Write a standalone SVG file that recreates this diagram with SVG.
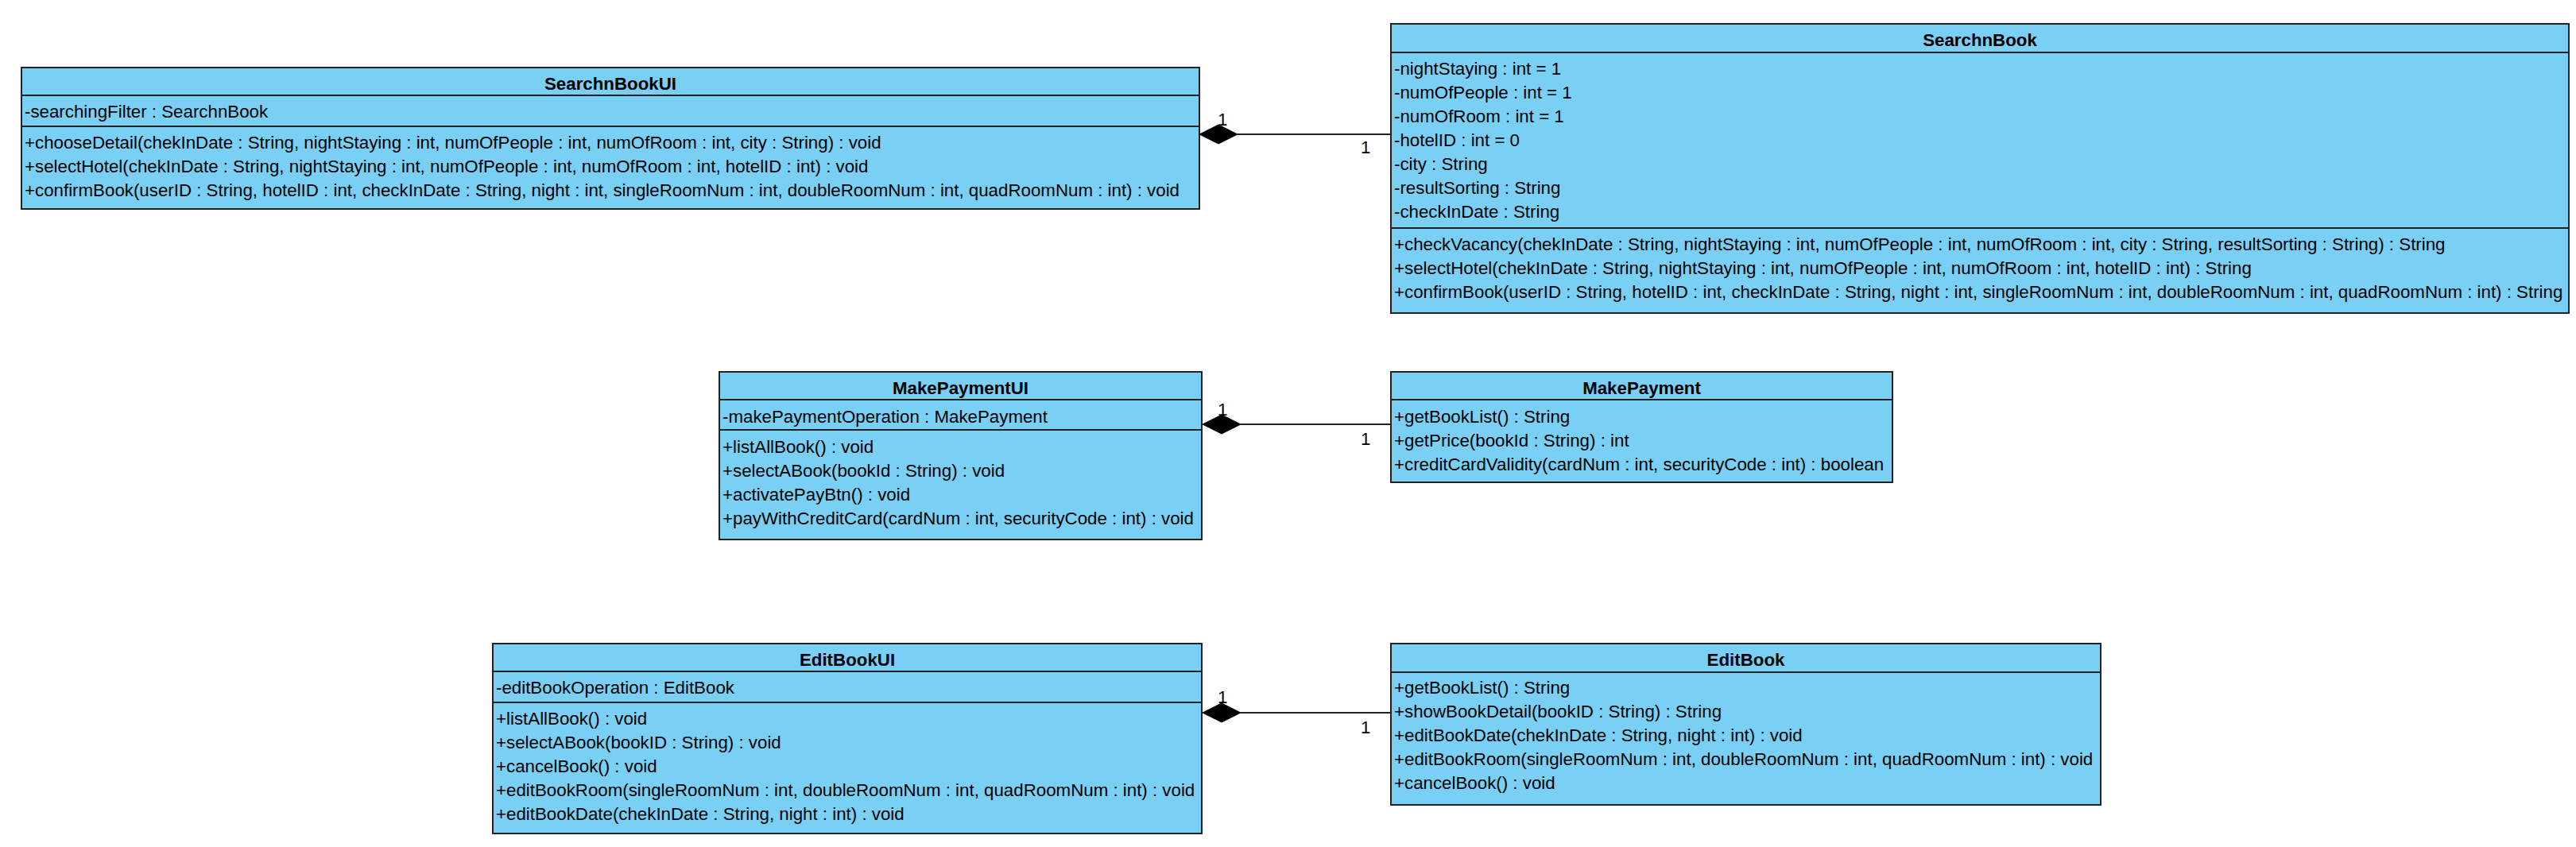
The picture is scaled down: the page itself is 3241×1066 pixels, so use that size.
<svg xmlns="http://www.w3.org/2000/svg" width="3241" height="1066" viewBox="0 0 3241 1066">
<style>
.box{fill:#7acff5;stroke:#222;stroke-width:2}
.div{stroke:#222;stroke-width:2}
.t{font-family:"Liberation Sans",Arial,sans-serif;font-size:22.3px;fill:#000}
.title{font-family:"Liberation Sans",Arial,sans-serif;font-size:22.3px;font-weight:bold;fill:#000;text-anchor:middle}
.conn{stroke:#222;stroke-width:2;fill:none}
.dia{fill:#000;stroke:#000;stroke-width:1}
</style>
<rect width="3241" height="1066" fill="#fff"/>
<g id="SearchnBookUI">
<rect class="box" x="27" y="85" width="1482" height="178"/>
<line class="div" x1="27" y1="120" x2="1509" y2="120"/>
<line class="div" x1="27" y1="159" x2="1509" y2="159"/>
<text class="title" x="768" y="113">SearchnBookUI</text>
<text class="t" x="31" y="148">-searchingFilter : SearchnBook</text>
<text class="t" x="31" y="187">+chooseDetail(chekInDate : String, nightStaying : int, numOfPeople : int, numOfRoom : int, city : String) : void</text>
<text class="t" x="31" y="217">+selectHotel(chekInDate : String, nightStaying : int, numOfPeople : int, numOfRoom : int, hotelID : int) : void</text>
<text class="t" x="31" y="247">+confirmBook(userID : String, hotelID : int, checkInDate : String, night : int, singleRoomNum : int, doubleRoomNum : int, quadRoomNum : int) : void</text>
</g>
<g id="SearchnBook">
<rect class="box" x="1750" y="30" width="1482" height="364"/>
<line class="div" x1="1750" y1="66" x2="3232" y2="66"/>
<line class="div" x1="1750" y1="287" x2="3232" y2="287"/>
<text class="title" x="2491" y="58">SearchnBook</text>
<text class="t" x="1754" y="94">-nightStaying : int = 1</text>
<text class="t" x="1754" y="124">-numOfPeople : int = 1</text>
<text class="t" x="1754" y="154">-numOfRoom : int = 1</text>
<text class="t" x="1754" y="184">-hotelID : int = 0</text>
<text class="t" x="1754" y="214">-city : String</text>
<text class="t" x="1754" y="244">-resultSorting : String</text>
<text class="t" x="1754" y="274">-checkInDate : String</text>
<text class="t" x="1754" y="315">+checkVacancy(chekInDate : String, nightStaying : int, numOfPeople : int, numOfRoom : int, city : String, resultSorting : String) : String</text>
<text class="t" x="1754" y="345">+selectHotel(chekInDate : String, nightStaying : int, numOfPeople : int, numOfRoom : int, hotelID : int) : String</text>
<text class="t" x="1754" y="375">+confirmBook(userID : String, hotelID : int, checkInDate : String, night : int, singleRoomNum : int, doubleRoomNum : int, quadRoomNum : int) : String</text>
</g>
<g id="MakePaymentUI">
<rect class="box" x="905" y="468" width="607" height="211"/>
<line class="div" x1="905" y1="503" x2="1512" y2="503"/>
<line class="div" x1="905" y1="541" x2="1512" y2="541"/>
<text class="title" x="1208.5" y="496">MakePaymentUI</text>
<text class="t" x="909" y="532">-makePaymentOperation : MakePayment</text>
<text class="t" x="909" y="570">+listAllBook() : void</text>
<text class="t" x="909" y="600">+selectABook(bookId : String) : void</text>
<text class="t" x="909" y="630">+activatePayBtn() : void</text>
<text class="t" x="909" y="660">+payWithCreditCard(cardNum : int, securityCode : int) : void</text>
</g>
<g id="MakePayment">
<rect class="box" x="1750" y="468" width="631" height="139"/>
<line class="div" x1="1750" y1="503" x2="2381" y2="503"/>
<text class="title" x="2065.5" y="496">MakePayment</text>
<text class="t" x="1754" y="532">+getBookList() : String</text>
<text class="t" x="1754" y="562">+getPrice(bookId : String) : int</text>
<text class="t" x="1754" y="592">+creditCardValidity(cardNum : int, securityCode : int) : boolean</text>
</g>
<g id="EditBookUI">
<rect class="box" x="620" y="810" width="892" height="239"/>
<line class="div" x1="620" y1="845" x2="1512" y2="845"/>
<line class="div" x1="620" y1="884" x2="1512" y2="884"/>
<text class="title" x="1066" y="838">EditBookUI</text>
<text class="t" x="624" y="873">-editBookOperation : EditBook</text>
<text class="t" x="624" y="912">+listAllBook() : void</text>
<text class="t" x="624" y="942">+selectABook(bookID : String) : void</text>
<text class="t" x="624" y="972">+cancelBook() : void</text>
<text class="t" x="624" y="1002">+editBookRoom(singleRoomNum : int, doubleRoomNum : int, quadRoomNum : int) : void</text>
<text class="t" x="624" y="1032">+editBookDate(chekInDate : String, night : int) : void</text>
</g>
<g id="EditBook">
<rect class="box" x="1750" y="810" width="893" height="203"/>
<line class="div" x1="1750" y1="846" x2="2643" y2="846"/>
<text class="title" x="2196.5" y="838">EditBook</text>
<text class="t" x="1754" y="873">+getBookList() : String</text>
<text class="t" x="1754" y="903">+showBookDetail(bookID : String) : String</text>
<text class="t" x="1754" y="933">+editBookDate(chekInDate : String, night : int) : void</text>
<text class="t" x="1754" y="963">+editBookRoom(singleRoomNum : int, doubleRoomNum : int, quadRoomNum : int) : void</text>
<text class="t" x="1754" y="993">+cancelBook() : void</text>
</g>
<g id="connectors">
<line class="conn" x1="1557" y1="169" x2="1750" y2="169"/>
<polygon class="dia" points="1509,169 1533,157 1557,169 1533,181"/>
<text class="t" x="1532" y="158">1</text>
<text class="t" x="1712" y="193">1</text>
<line class="conn" x1="1561" y1="534" x2="1750" y2="534"/>
<polygon class="dia" points="1513,534 1537,522 1561,534 1537,546"/>
<text class="t" x="1532" y="523">1</text>
<text class="t" x="1712" y="560">1</text>
<line class="conn" x1="1561" y1="897" x2="1750" y2="897"/>
<polygon class="dia" points="1513,897 1537,885 1561,897 1537,909"/>
<text class="t" x="1532" y="885">1</text>
<text class="t" x="1712" y="923">1</text>
</g>
</svg>
